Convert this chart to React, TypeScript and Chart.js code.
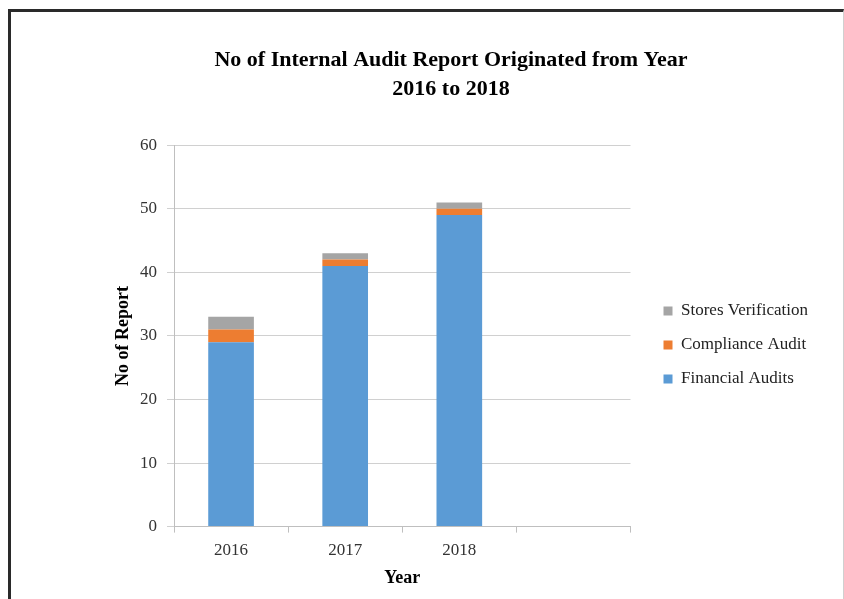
import React, { useEffect, useRef } from 'react';
import { Chart, registerables } from 'chart.js';

Chart.register(...registerables);

const categories = ['2016', '2017', '2018', ''];
const financialAudits = [29, 41, 49];
const complianceAudit = [2, 1, 1];
const storesVerification = [2, 1, 1];
const yTicks = [0, 10, 20, 30, 40, 50, 60];
const titleLines = ['No of Internal Audit Report Originated from Year', '2016 to 2018'];
const xTitle = 'Year';
const yTitle = 'No of Report';

const SERIF = "'Liberation Serif', 'Times New Roman', serif";

// Nudges the legend box away from the plot area (gap between plot and legend).
const legendOffset = {
  id: 'legendOffset',
  afterLayout(chart: any) {
    const l = chart.legend;
    if (!l) return;
    l.left += 16;
    l.right += 16;
    l.top += 9;
    l.bottom += 9;
  },
};

export default function App() {
  const ref = useRef<HTMLCanvasElement>(null);

  useEffect(() => {
    if (!ref.current) return;
    const tickFont = { family: SERIF, size: 17 };
    const axisTitleFont = { family: SERIF, size: 18, weight: 'bold' as const };
    const xTitleFont = { family: SERIF, size: 18, weight: 'bold' as const, lineHeight: 1.0 };
    const barOpts = { barPercentage: 0.4, categoryPercentage: 1 };
    const chart = new Chart(ref.current, {
      type: 'bar',
      data: {
        labels: categories,
        datasets: [
          { label: 'Financial Audits', data: financialAudits, backgroundColor: '#5b9bd5', ...barOpts },
          { label: 'Compliance Audit', data: complianceAudit, backgroundColor: '#ed7d31', ...barOpts },
          { label: 'Stores Verification', data: storesVerification, backgroundColor: '#a5a5a5', ...barOpts },
        ],
      },
      plugins: [legendOffset],
      options: {
        responsive: false,
        animation: false,
        layout: { padding: { left: 100, right: 42, top: 0, bottom: 12 } },
        plugins: {
          title: {
            display: true,
            text: titleLines,
            color: '#000',
            font: { family: SERIF, size: 22, weight: 'bold', lineHeight: 1.3 },
            padding: { top: 46, bottom: 42 },
          },
          legend: {
            position: 'right',
            reverse: true,
            fullSize: false,
            labels: {
              boxWidth: 9,
              boxHeight: 9,
              padding: 17,
              color: '#222',
              font: { family: SERIF, size: 17 },
            },
          },
          tooltip: { enabled: false },
        },
        scales: {
          x: {
            stacked: true,
            grid: { drawOnChartArea: false, drawTicks: true, tickLength: 6, color: '#bfbfbf', offset: true },
            border: { color: '#bfbfbf' },
            ticks: { font: tickFont, color: '#333', padding: 8 },
            title: { display: true, text: xTitle, color: '#000', font: xTitleFont, padding: { top: 0, bottom: 0 } },
          },
          y: {
            stacked: true,
            min: 0,
            max: 60,
            afterBuildTicks: (s: any) => {
              s.ticks = yTicks.map((v) => ({ value: v }));
            },
            afterFit: (s: any) => {
              s.width = 74;
            },
            ticks: { font: tickFont, color: '#333', padding: 10 },
            grid: { color: '#d0d0d0', tickLength: 7 },
            border: { color: '#bfbfbf' },
            title: { display: true, text: yTitle, color: '#000', font: axisTitleFont, padding: { top: 13, bottom: 0 } },
          },
        },
      } as any,
    });
    return () => chart.destroy();
  }, []);

  return (
    <div style={{ position: 'fixed', left: 0, top: 0, width: 844, height: 599, background: '#fff' }}>
      <canvas ref={ref} width={844} height={599} style={{ display: 'block', position: 'absolute', left: 0, top: 0 }} />
      <div
        style={{
          position: 'absolute',
          left: 8,
          top: 9,
          width: 836,
          height: 700,
          boxSizing: 'border-box',
          borderTop: '3px solid #2a2a2a',
          borderLeft: '3px solid #2a2a2a',
          borderRight: '1px solid #d0d0d0',
          pointerEvents: 'none',
        }}
      />
    </div>
  );
}
